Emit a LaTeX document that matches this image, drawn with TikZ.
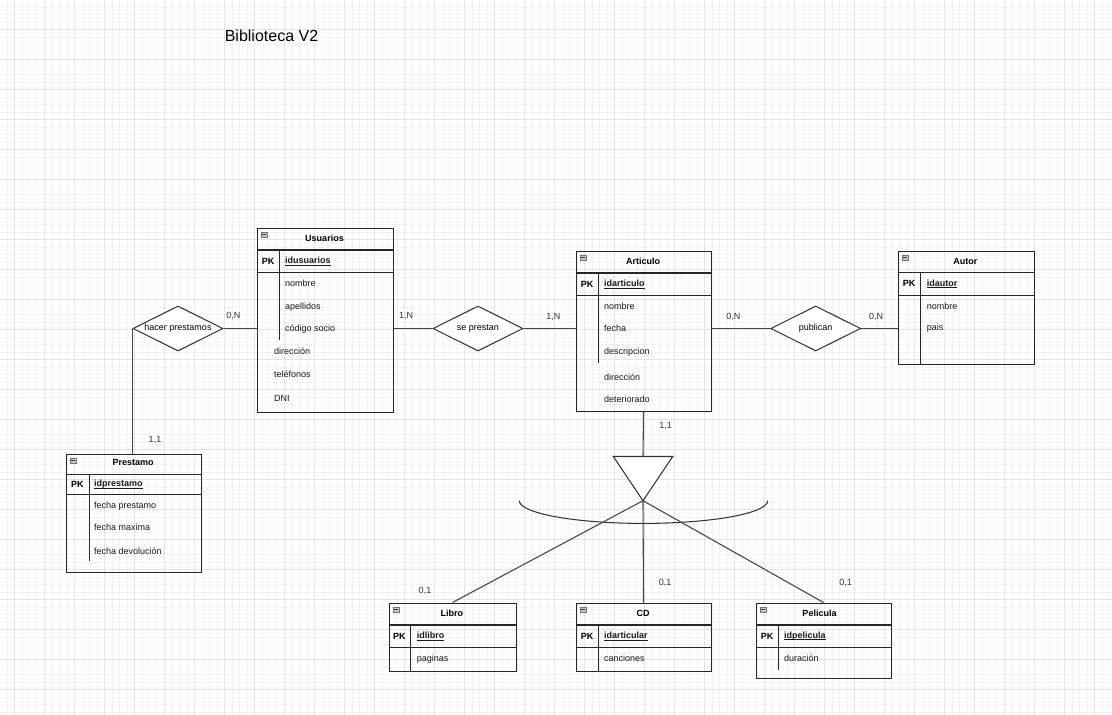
\documentclass[tikz,border=0pt]{standalone}
\usepackage{fontspec}
\setmainfont{Liberation Sans}
\usetikzlibrary{shapes.geometric}
\newcommand{\ertab}[9]{%
  \node[tbl, minimum width={#4-#2}, minimum height={#5-#3}] (#1) at (#2,#3) {};
  \draw[tline] (#2,#6) -- (#4,#6);
  \draw[tline] (#2,#7) -- (#4,#7);
  \draw[tline] (#8,#6) -- (#8,#9);
  \draw[icon] ({#2+4.5},{#3+4.5}) rectangle ++(6,5);
  \draw[black!75, line width=0.7] ({#2+5.8},{#3+7}) -- ++(3.4,0);
}
\newsavebox\pkbox
\newcommand{\pkname}[1]{\sbox\pkbox{\bfseries#1}\rlap{\raisebox{-1.6pt}{\rule{\wd\pkbox}{0.7pt}}}\usebox\pkbox}
\tikzset{
  tbl/.style={draw=black!85, line width=1.05, inner sep=0, anchor=north west},
  tline/.style={draw=black!85, line width=1.05},
  icon/.style={draw=black!55, fill=black!22, line width=0.5},
  conn/.style={draw=black!72, line width=1.1},
  ttl/.style={font=\fontsize{9}{11}\selectfont\bfseries, inner sep=0, anchor=center},
  pkl/.style={font=\fontsize{9}{11}\selectfont\bfseries, inner sep=0, anchor=center},
  attr/.style={font=\fontsize{9}{11}\selectfont, inner sep=0, anchor=west, text=black!90},
  card/.style={font=\fontsize{9}{11}\selectfont, inner sep=0, anchor=center, text=black!80},
  rel/.style={shape=diamond, draw=black!78, line width=1.05, inner sep=0, aspect=2,
    minimum width=90, minimum height=45, font=\fontsize{9}{11}\selectfont, fill=white},
  gmin/.style={draw=black!5, line width=0.6},
  gmaj/.style={draw=black!11, line width=0.8}
}
\begin{document}
\begin{tikzpicture}[x=1pt, y=-1pt]
\useasboundingbox (0,0) rectangle (1112,715);
\fill[white] (0,0) rectangle (1112,715);
% grid
\foreach \k in {0,...,149} {\draw[gmin] ({-0.7+7.5*\k},0) -- ({-0.7+7.5*\k},715);}
\foreach \k in {0,...,96} {\draw[gmin] (0,{-0.5+7.5*\k}) -- (1112,{-0.5+7.5*\k});}
\foreach \k in {0,...,37} {\draw[gmaj] ({14.3+30*\k},0) -- ({14.3+30*\k},715);}
\foreach \k in {0,...,23} {\draw[gmaj] (0,{29.5+30*\k}) -- (1112,{29.5+30*\k});}

\node[font=\fontsize{16}{19}\selectfont, inner sep=0] (title) at (271.5,36) {Biblioteca V2};

% Usuarios
\ertab{usu}{256.5}{227.5}{392.5}{411.5}{250}{272.5}{279.5}{339.5}
\node[ttl] (usu-t) at (324.5,238.6) {Usuarios};
\node[pkl] (usu-pk) at (268,261.2) {PK};
\node[attr] (usu-id) at (285,261.2) {\pkname{idusuarios}};
\node[attr] (usu-a1) at (285,283.3) {nombre};
\node[attr] (usu-a2) at (285,307.3) {apellidos};
\node[attr] (usu-a3) at (285,328.7) {código socio};
\node[attr] (usu-a4) at (274,351.7) {dirección};
\node[attr] (usu-a5) at (274,374) {teléfonos};
\node[attr] (usu-a6) at (274,398.7) {DNI};

% Articulo
\ertab{art}{575.5}{250.5}{710.5}{410.5}{273}{295.5}{598.5}{362.5}
\node[ttl] (art-t) at (643.2,261.7) {Articulo};
\node[pkl] (art-pk) at (587,284.2) {PK};
\node[attr] (art-id) at (604,284.2) {\pkname{idarticulo}};
\node[attr] (art-a1) at (604,306.7) {nombre};
\node[attr] (art-a2) at (604,328.3) {fecha};
\node[attr] (art-a3) at (604,351.7) {descripcion};
\node[attr] (art-a4) at (604,377.7) {dirección};
\node[attr] (art-a5) at (604,399) {deteriorado};

% Autor
\ertab{aut}{897.5}{250.5}{1033.5}{363.5}{272.5}{295.5}{920.5}{363.5}
\node[ttl] (aut-t) at (965.3,261.2) {Autor};
\node[pkl] (aut-pk) at (909,283.8) {PK};
\node[attr] (aut-id) at (926.7,283.8) {\pkname{idautor}};
\node[attr] (aut-a1) at (926.7,306.7) {nombre};
\node[attr] (aut-a2) at (926.7,328.3) {pais};

% Prestamo
\ertab{pre}{65.5}{453.5}{200.5}{571.5}{474.5}{494.5}{89.5}{561}
\node[ttl] (pre-t) at (133.2,462.7) {Prestamo};
\node[pkl] (pre-pk) at (77.3,484.3) {PK};
\node[attr] (pre-id) at (94,484.3) {\pkname{idprestamo}};
\node[attr] (pre-a1) at (94,506) {fecha prestamo};
\node[attr] (pre-a2) at (94,527.3) {fecha maxima};
\node[attr] (pre-a3) at (94,551) {fecha devolución};

% Libro
\ertab{lib}{388.5}{602.5}{515.5}{670.5}{625}{647.5}{410.5}{670.5}
\node[ttl] (lib-t) at (451.8,613.7) {Libro};
\node[pkl] (lib-pk) at (399.3,636.2) {PK};
\node[attr] (lib-id) at (416.7,636.2) {\pkname{idlibro}};
\node[attr] (lib-a1) at (416.7,658.7) {paginas};

% CD
\ertab{cd}{575.5}{602.5}{710.5}{670.5}{625}{647.5}{598.5}{670.5}
\node[ttl] (cd-t) at (643.2,613.7) {CD};
\node[pkl] (cd-pk) at (587,636.2) {PK};
\node[attr] (cd-id) at (604,636.2) {\pkname{idarticular}};
\node[attr] (cd-a1) at (604,658.7) {canciones};

% Pelicula
\ertab{pel}{755.5}{602.5}{890.5}{677.5}{625}{647.5}{778.5}{670}
\node[ttl] (pel-t) at (819.5,613.7) {Pelicula};
\node[pkl] (pel-pk) at (767,636.2) {PK};
\node[attr] (pel-id) at (784,636.2) {\pkname{idpelicula}};
\node[attr] (pel-a1) at (784,658.7) {duración};

% relationships
\node[rel] (hp) at (178,328.5) {hacer prestamos};
\node[rel] (sp) at (478,328.5) {se prestan};
\node[rel] (pub) at (815.7,328.5) {publican};

\draw[conn] (hp.east) -- (hp.east -| usu.west);
\draw[conn] (hp.west) -- (hp.west |- pre.north);
\draw[conn] (sp.west -| usu.east) -- (sp.west);
\draw[conn] (sp.east) -- (sp.east -| art.west);
\draw[conn] (pub.west -| art.east) -- (pub.west);
\draw[conn] (pub.east) -- (pub.east -| aut.west);

% ISA
\coordinate (tl) at (613.3,456.5);
\coordinate (tr) at (672.7,456.5);
\coordinate (ttop) at (643,456.5);
\coordinate (apex) at (643,500.7);
\draw[conn] (art.south) -- (ttop);
\draw[black!80, line width=1.05, fill=white] (tl) -- (tr) -- (apex) -- cycle;
\draw[black!80, line width=1.05] (519.3,500.7) arc[start angle=180, end angle=360, x radius=124.2pt, y radius=22.7pt];
\draw[conn] (apex) -- (lib.north);
\draw[conn] (apex) -- (cd.north);
\draw[conn] (apex) -- (pel.north);

% cardinalities
\node[card] (c1) at (233.3,316.3) {0,N};
\node[card] (c2) at (406,316.3) {1,N};
\node[card] (c3) at (553.3,316.7) {1,N};
\node[card] (c4) at (733.3,316.7) {0,N};
\node[card] (c5) at (876,316.7) {0,N};
\node[card] (c6) at (665.7,425.7) {1,1};
\node[card] (c7) at (155,440) {1,1};
\node[card] (c8) at (425,590.5) {0,1};
\node[card] (c9) at (665,582.7) {0,1};
\node[card] (c10) at (845.5,582.7) {0,1};
\end{tikzpicture}
\end{document}
